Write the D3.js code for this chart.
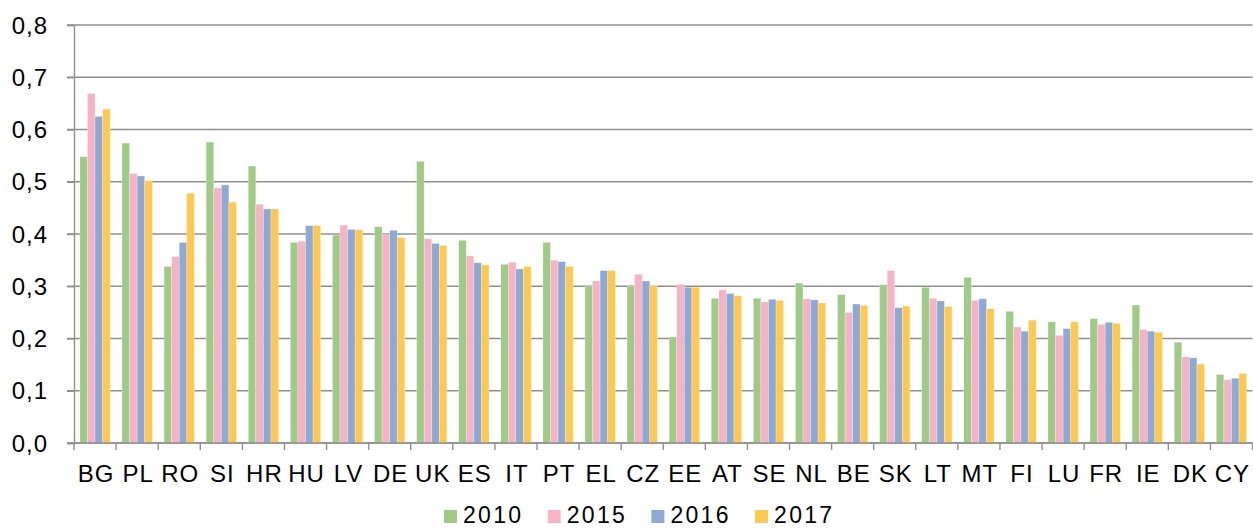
<!DOCTYPE html>
<html>
<head>
<meta charset="utf-8">
<script src="https://cdn.jsdelivr.net/npm/d3@7"></script>
<style>
  html, body { margin: 0; padding: 0; background: #ffffff; }
  svg { display: block; }
  text { font-family: "Liberation Sans", Arial, sans-serif; fill: #000; }
</style>
</head>
<body>
<svg id="chart" width="1253" height="528"></svg>
<script>
  const countries = ['BG', 'PL', 'RO', 'SI', 'HR', 'HU', 'LV', 'DE', 'UK', 'ES', 'IT', 'PT', 'EL', 'CZ',
    'EE', 'AT', 'SE', 'NL', 'BE', 'SK', 'LT', 'MT', 'FI', 'LU', 'FR', 'IE', 'DK', 'CY'];
  const years = ['2010', '2015', '2016', '2017'];

  const v2010 = [0.548, 0.574, 0.338, 0.576, 0.530, 0.384, 0.398, 0.414, 0.539, 0.388, 0.342, 0.384, 0.300, 0.300,
    0.203, 0.277, 0.277, 0.306, 0.284, 0.303, 0.298, 0.317, 0.252, 0.232, 0.238, 0.264, 0.193, 0.131];
  const v2015 = [0.669, 0.516, 0.357, 0.488, 0.457, 0.386, 0.417, 0.399, 0.391, 0.358, 0.346, 0.350, 0.310, 0.323,
    0.304, 0.293, 0.270, 0.276, 0.250, 0.330, 0.277, 0.273, 0.222, 0.206, 0.227, 0.217, 0.165, 0.121];
  const v2016 = [0.625, 0.511, 0.384, 0.494, 0.448, 0.416, 0.409, 0.407, 0.382, 0.345, 0.333, 0.347, 0.330, 0.310,
    0.298, 0.286, 0.275, 0.274, 0.266, 0.259, 0.272, 0.276, 0.214, 0.219, 0.231, 0.214, 0.163, 0.124];
  const v2017 = [0.639, 0.502, 0.478, 0.461, 0.448, 0.416, 0.408, 0.393, 0.378, 0.341, 0.338, 0.338, 0.330, 0.301,
    0.298, 0.282, 0.273, 0.268, 0.263, 0.262, 0.261, 0.257, 0.235, 0.232, 0.229, 0.212, 0.151, 0.133];

  const yTicks = [0, 0.1, 0.2, 0.3, 0.4, 0.5, 0.6, 0.7, 0.8];

  const seriesValues = [v2010, v2015, v2016, v2017];
  const colors = ['#9fcb87', '#f5b3c5', '#8ea9d3', '#ffc850'];

  (function () {
    const svg = d3.select('#chart');
    const plotLeft = 74;
    const plotRight = 1252.5;
    const plotTop = 25;
    const plotBottom = 443;

    const x0 = d3.scaleBand().domain(countries).range([plotLeft, plotRight]).paddingInner(0.28).paddingOuter(0.14);
    const x1 = d3.scaleBand().domain(years).range([0, x0.bandwidth()]);
    const y = d3.scaleLinear().domain([0, 0.8]).range([plotBottom, plotTop]);
    const color = d3.scaleOrdinal().domain(years).range(colors);
    const fmt = (d) => d3.format('.1f')(d).replace('.', ',');

    // gridlines
    svg.append('g')
      .selectAll('line')
      .data(yTicks)
      .join('line')
      .attr('x1', plotLeft - 7)
      .attr('x2', plotRight)
      .attr('y1', (d) => y(d))
      .attr('y2', (d) => y(d))
      .attr('stroke', '#8f8f8f')
      .attr('stroke-width', 1.4);

    // bars
    const data = countries.map((c, i) => ({
      country: c,
      values: years.map((yr, j) => ({ year: yr, value: seriesValues[j][i] }))
    }));

    svg.append('g')
      .selectAll('g')
      .data(data)
      .join('g')
      .attr('transform', (d) => `translate(${x0(d.country)},0)`)
      .selectAll('rect')
      .data((d) => d.values)
      .join('rect')
      .attr('x', (d) => x1(d.year))
      .attr('width', x1.bandwidth())
      .attr('y', (d) => y(d.value))
      .attr('height', (d) => y(0) - y(d.value))
      .attr('fill', (d) => color(d.year))
      .attr('stroke', '#ffffff')
      .attr('stroke-opacity', 0.45)
      .attr('stroke-width', 0.6);

    // y axis
    const yAxis = svg.append('g')
      .attr('transform', `translate(${plotLeft},0)`)
      .call(d3.axisLeft(y).tickValues(yTicks).tickFormat(fmt).tickSize(7).tickPadding(19));
    yAxis.select('.domain').attr('stroke', '#8f8f8f').attr('stroke-width', 1.4);
    yAxis.selectAll('.tick line').attr('stroke', '#8f8f8f').attr('stroke-width', 1.4);
    yAxis.selectAll('.tick text')
      .attr('font-size', 24)
      .attr('letter-spacing', 1)
      .attr('dy', '0.34em')
      .attr('font-family', '"Liberation Sans", Arial, sans-serif')
      .attr('fill', '#000');

    // x axis: ticks between categories
    const boundaries = d3.range(countries.length + 1).map((i) => plotLeft + i * x0.step());
    const xAxis = svg.append('g');
    xAxis.append('line')
      .attr('x1', plotLeft)
      .attr('x2', plotRight)
      .attr('y1', plotBottom)
      .attr('y2', plotBottom)
      .attr('stroke', '#8f8f8f')
      .attr('stroke-width', 1.4);
    xAxis.selectAll('line.tk')
      .data(boundaries)
      .join('line')
      .attr('class', 'tk')
      .attr('x1', (d) => d)
      .attr('x2', (d) => d)
      .attr('y1', plotBottom)
      .attr('y2', plotBottom + 7)
      .attr('stroke', '#8f8f8f')
      .attr('stroke-width', 1.4);
    xAxis.selectAll('text')
      .data(countries)
      .join('text')
      .attr('x', (d) => x0(d) + x0.bandwidth() / 2 + 1)
      .attr('y', 482)
      .attr('text-anchor', 'middle')
      .attr('font-size', 24)
      .attr('letter-spacing', 1)
      .text((d) => d);

    // legend
    const legend = svg.append('g')
      .selectAll('g')
      .data(years)
      .join('g')
      .attr('transform', (d, i) => `translate(${444 + i * 103.7},510)`);
    legend.append('rect')
      .attr('width', 13)
      .attr('height', 13)
      .attr('fill', (d) => color(d));
    legend.append('text')
      .attr('x', 19)
      .attr('y', 13)
      .attr('font-size', 23)
      .attr('letter-spacing', 2.3)
      .text((d) => d);
  })();
</script>
</body>
</html>
